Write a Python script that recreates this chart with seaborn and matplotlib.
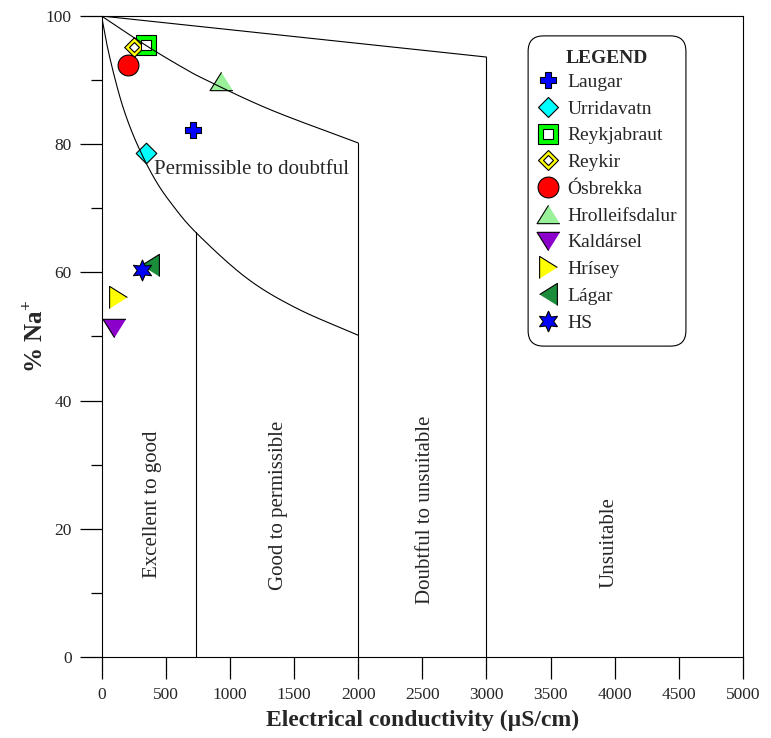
import numpy as np
import pandas as pd
import matplotlib
matplotlib.use("Agg")
import matplotlib.pyplot as plt
import seaborn as sns
from matplotlib.lines import Line2D
from matplotlib.patches import FancyBboxPatch
from matplotlib.legend_handler import HandlerTuple

# ---- sample data -------------------------------------------------------
sites = ["Laugar", "Urridavatn", "Reykjabraut", "Reykir", "Ósbrekka",
         "Hrolleifsdalur", "Kaldársel", "Hrísey", "Lágar", "HS"]
ec_values = [711, 349, 345, 256, 207, 930, 99, 125, 376, 318]
na_percent = [82.2, 78.7, 95.5, 95.1, 92.3, 89.9, 51.4, 56.2, 61.2, 60.4]

# ---- Wilcox diagram boundaries (EC in uS/cm, % Na) ----------------------
upper_line_ec = [0, 3000]
upper_line_na = [100, 93.6]
middle_curve_ec = [0, 339, 612, 807, 1314, 2000]
middle_curve_na = [100, 95.5, 92.2, 90.1, 85.4, 80.2]
lower_curve_ec = [0, 39, 101, 175, 273, 405, 542, 742, 1132, 1521, 2000]
lower_curve_na = [100, 95.8, 90.5, 85.3, 80.2, 74.9, 70.8, 66.1, 59.1, 54.4, 50.2]
divider_ec = [740, 2000, 3000]
divider_top_na = [66.3, 80.2, 93.6]

zone_names = ["Excellent to good", "Good to permissible",
              "Doubtful to unsuitable", "Unsuitable", "Permissible to doubtful"]
zone_ec = [394, 1376, 2529, 3956, 1165]
zone_na = [23.9, 23.6, 22.9, 17.8, 76.0]
zone_rot = [90, 90, 90, 90, 0]

x_ticks = [0, 500, 1000, 1500, 2000, 2500, 3000, 3500, 4000, 4500, 5000]
y_ticks = [0, 20, 40, 60, 80, 100]
y_minor = [10, 30, 50, 70, 90]

# ---- marker styles ---------------------------------------------------------
tri_up = [(0, 0.8), (-1, -0.8), (1, -0.8)]
tri_down = [(0, -0.8), (-1, 0.8), (1, 0.8)]
tri_right = [(0.8, 0), (-0.8, 1), (-0.8, -1)]
tri_left = [(-0.8, 0), (0.8, 1), (0.8, -1)]

styles = {
    "Laugar":         dict(marker="P", color="#0000ff", ms=12),
    "Urridavatn":     dict(marker="D", color="#00ffff", ms=10.5),
    "Reykjabraut":    dict(marker="s", color="#00ff00", ms=15, inner=("s", 7)),
    "Reykir":         dict(marker="D", color="#ffff00", ms=10, inner=("D", 5)),
    "Ósbrekka":       dict(marker="o", color="#ff0000", ms=15),
    "Hrolleifsdalur": dict(marker=tri_up, color="#99f299", ms=16.5),
    "Kaldársel":      dict(marker=tri_down, color="#8c00cc", ms=16.5),
    "Hrísey":         dict(marker=tri_right, color="#ffff00", ms=16),
    "Lágar":          dict(marker=tri_left, color="#1a8c3a", ms=16),
    "HS":             dict(marker=(6, 1, 0), color="#0000ff", ms=15),
}

df = pd.DataFrame({"site": sites, "ec": ec_values, "na": na_percent})


def catmull_rom(xs, ys, n=40):
    p = np.column_stack([xs, ys]).astype(float)
    p = np.vstack([2 * p[0] - p[1], p, 2 * p[-1] - p[-2]])
    t = np.linspace(0, 1, n, endpoint=False)[:, None]
    parts = []
    for i in range(1, len(p) - 2):
        p0, p1, p2, p3 = p[i - 1], p[i], p[i + 1], p[i + 2]
        parts.append(0.5 * (2 * p1 + (-p0 + p2) * t
                            + (2 * p0 - 5 * p1 + 4 * p2 - p3) * t ** 2
                            + (-p0 + 3 * p1 - 3 * p2 + p3) * t ** 3))
    parts.append(p[-2][None, :])
    out = np.vstack(parts)
    return out[:, 0], out[:, 1]


sns.set_style("ticks")
plt.rcParams["font.family"] = ["Liberation Serif", "DejaVu Serif"]
plt.rcParams["mathtext.fontset"] = "custom"
plt.rcParams["mathtext.rm"] = "Liberation Serif"
plt.rcParams["mathtext.bf"] = "Liberation Serif:bold"

fig = plt.figure(figsize=(7.71, 7.38), dpi=100)
ax = fig.add_axes([0.1317, 0.1098, 0.832, 0.8685])

# points
for _, row in df.iterrows():
    st = styles[row["site"]]
    sns.scatterplot(x=[row["ec"]], y=[row["na"]], marker=st["marker"],
                    s=st["ms"] ** 2, color=st["color"], edgecolor="black",
                    linewidth=0.8, ax=ax, zorder=3, legend=False)
    if "inner" in st:
        im, isz = st["inner"]
        sns.scatterplot(x=[row["ec"]], y=[row["na"]], marker=im, s=isz ** 2,
                        color="white", edgecolor="black", linewidth=0.8,
                        ax=ax, zorder=3.1, legend=False)

# diagram boundaries
line_kw = dict(color="black", lw=0.8, zorder=4)
ax.plot(upper_line_ec, upper_line_na, **line_kw)
mx, my = catmull_rom(middle_curve_ec, middle_curve_na)
ax.plot(mx, my, **line_kw)
lx, ly = catmull_rom(lower_curve_ec, lower_curve_na)
ax.plot(lx, ly, **line_kw)
for xe, top in zip(divider_ec, divider_top_na):
    ax.plot([xe, xe], [0, top], **line_kw)

for name, xe, yn, rot in zip(zone_names, zone_ec, zone_na, zone_rot):
    ax.text(xe, yn, name, rotation=rot, ha="center", va="center", fontsize=15)

ax.set_xlim(0, 5000)
ax.set_ylim(0, 100)
ax.set_xticks(x_ticks)
ax.set_yticks(y_ticks)
ax.set_yticks(y_minor, minor=True)
ax.tick_params(axis="both", which="major", direction="out", length=15.5,
               width=0.9, labelsize=12.5, pad=6, color="black",
               bottom=True, left=True, top=False, right=False)
ax.tick_params(axis="y", which="minor", direction="out", length=8,
               width=0.9, color="black", left=True)
for sp in ax.spines.values():
    sp.set_visible(True)
    sp.set_linewidth(0.8)
    sp.set_color("black")

ax.set_xlabel("Electrical conductivity (µS/cm)", fontsize=17,
              fontweight="bold", labelpad=5)
ax.set_ylabel(r"% Na$^{\mathbf{+}}$", fontsize=18, fontweight="bold",
              labelpad=-2)

# legend: rounded frame, title and entries
frame = FancyBboxPatch((0.665, 0.485), 0.246, 0.484,
                       boxstyle="round,pad=0,rounding_size=0.024",
                       mutation_aspect=1, transform=ax.transAxes,
                       facecolor="white", edgecolor="black", lw=0.8, zorder=5)
ax.add_patch(frame)
ax.text(0.788, 0.933, "LEGEND", transform=ax.transAxes, ha="center",
        va="center", fontsize=14, fontweight="bold", zorder=6)

handles = []
for name in sites:
    st = styles[name]
    h = Line2D([], [], ls="none", marker=st["marker"], ms=st["ms"],
               mfc=st["color"], mec="black", mew=0.8)
    if "inner" in st:
        im, isz = st["inner"]
        h2 = Line2D([], [], ls="none", marker=im, ms=isz, mfc="white",
                    mec="black", mew=0.8)
        h = (h, h2)
    handles.append(h)

leg = ax.legend(handles, sites, loc="upper left",
                bbox_to_anchor=(0.681, 0.9107), borderaxespad=0,
                fontsize=14, frameon=False,
                labelspacing=0.47, handletextpad=0.48, handlelength=1.0,
                borderpad=0,
                handler_map={tuple: HandlerTuple(ndivide=1)})
leg.set_zorder(7)

fig.savefig("out.png", dpi=100)
